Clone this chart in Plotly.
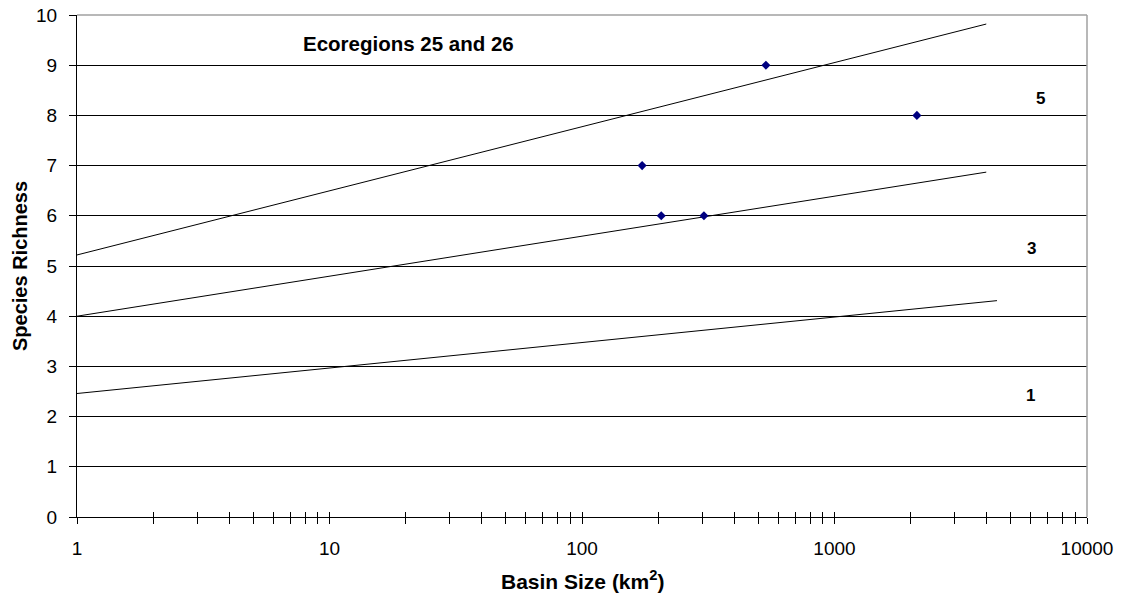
import math
import plotly.graph_objects as go

# Observed data points (basin size km2, species richness)
basin_size = [173, 206, 304, 535, 2120]
richness = [7, 6, 6, 9, 8]

# Reference lines (endpoints)
line5_x = [1, 3990]
line5_y = [5.22, 9.82]
line3_x = [1, 3990]
line3_y = [4.0, 6.87]
line1_x = [1, 4400]
line1_y = [2.46, 4.31]

# Line labels
label_text = ["5", "3", "1"]
label_x = [6530, 6030, 5960]
label_y = [8.33, 5.35, 2.43]

title_text = "Ecoregions 25 and 26"
title_x = 20.5
title_y = 9.44
x_ticks = [1, 10, 100, 1000, 10000]
x_minor = [m * 10 ** d for d in range(4) for m in range(2, 10)]
y_ticks = list(range(0, 11))

FONT = "Liberation Sans, Arial, sans-serif"
TICK_SIZE = 19

fig = go.Figure()
for lx, ly in [(line5_x, line5_y), (line3_x, line3_y), (line1_x, line1_y)]:
    fig.add_trace(go.Scatter(x=lx, y=ly, mode="lines",
                             line=dict(color="black", width=1),
                             showlegend=False, hoverinfo="skip"))
fig.add_trace(go.Scatter(x=basin_size, y=richness, mode="markers",
                         marker=dict(symbol="diamond", size=7, color="#000080"),
                         showlegend=False))
# dummy trace on xaxis2 so the cross-tick overlay axis renders
fig.add_trace(go.Scatter(x=[1], y=[None], xaxis="x2", mode="markers",
                         showlegend=False, hoverinfo="skip"))

for t, x, y in zip(label_text, label_x, label_y):
    fig.add_annotation(x=math.log10(x), y=y, text=f"<b>{t}</b>", showarrow=False,
                       xref="x", yref="y",
                       font=dict(family=FONT, size=17, color="black"))
fig.add_annotation(x=math.log10(title_x), y=title_y, text=f"<b>{title_text}</b>",
                   showarrow=False, xref="x", yref="y",
                   font=dict(family=FONT, size=20.5, color="black"))

# Axis titles
fig.add_annotation(x=0.5, y=0, xref="paper", yref="paper", yshift=-63,
                   xanchor="center", yanchor="middle",
                   text="<b>Basin Size (km<sup>2</sup>)</b>", showarrow=False,
                   font=dict(family=FONT, size=21, color="black"))
fig.add_annotation(x=0, y=0.5, xref="paper", yref="paper", xshift=-57,
                   xanchor="center", yanchor="middle",
                   text="<b>Species Richness</b>", showarrow=False, textangle=-90,
                   font=dict(family=FONT, size=20, color="black"))

fig.update_layout(
    width=1125, height=596,
    margin=dict(l=77, r=38, t=15, b=79),
    paper_bgcolor="white", plot_bgcolor="white",
    font=dict(family=FONT, color="black"),
    xaxis=dict(
        type="log", range=[0, 4], automargin=False,
        tickmode="array", tickvals=x_ticks, ticktext=[str(v) for v in x_ticks],
        ticks="outside", ticklen=6, tickcolor="black", tickwidth=1,
        minor=dict(tickmode="array", tickvals=x_minor, ticks="outside",
                   ticklen=6, tickcolor="black", tickwidth=1, showgrid=False),
        showgrid=False, zeroline=False,
        showline=True, linecolor="black", linewidth=1,
        tickfont=dict(size=TICK_SIZE), ticklabelstandoff=8,
        ticklabeloverflow="allow",
    ),
    xaxis2=dict(
        type="log", range=[0, 4], overlaying="x", anchor="y", side="bottom",
        automargin=False,
        tickmode="array", tickvals=x_ticks, showticklabels=False,
        ticks="inside", ticklen=5, tickcolor="black", tickwidth=1,
        minor=dict(tickmode="array", tickvals=x_minor, ticks="inside",
                   ticklen=5, tickcolor="black", tickwidth=1, showgrid=False),
        showgrid=False, zeroline=False, showline=False,
    ),
    yaxis=dict(
        range=[0, 10], automargin=False, tickmode="array", tickvals=y_ticks,
        ticks="outside", ticklen=7, tickcolor="black", tickwidth=1,
        showgrid=True, gridcolor="black", gridwidth=1,
        zeroline=False, showline=True, linecolor="black", linewidth=1,
        tickfont=dict(size=TICK_SIZE), ticklabelstandoff=8,
        ticklabeloverflow="allow",
    ),
    shapes=[
        dict(type="line", xref="paper", yref="paper", x0=0, x1=1, y0=1, y1=1,
             line=dict(color="#a0a0a0", width=1.5)),
        dict(type="line", xref="paper", yref="paper", x0=1, x1=1, y0=0, y1=1,
             line=dict(color="#a0a0a0", width=1.5)),
    ],
)

fig.write_html("out.html", config={"displayModeBar": False},
               post_script="document.body.style.margin='0';document.body.style.overflow='hidden';")
